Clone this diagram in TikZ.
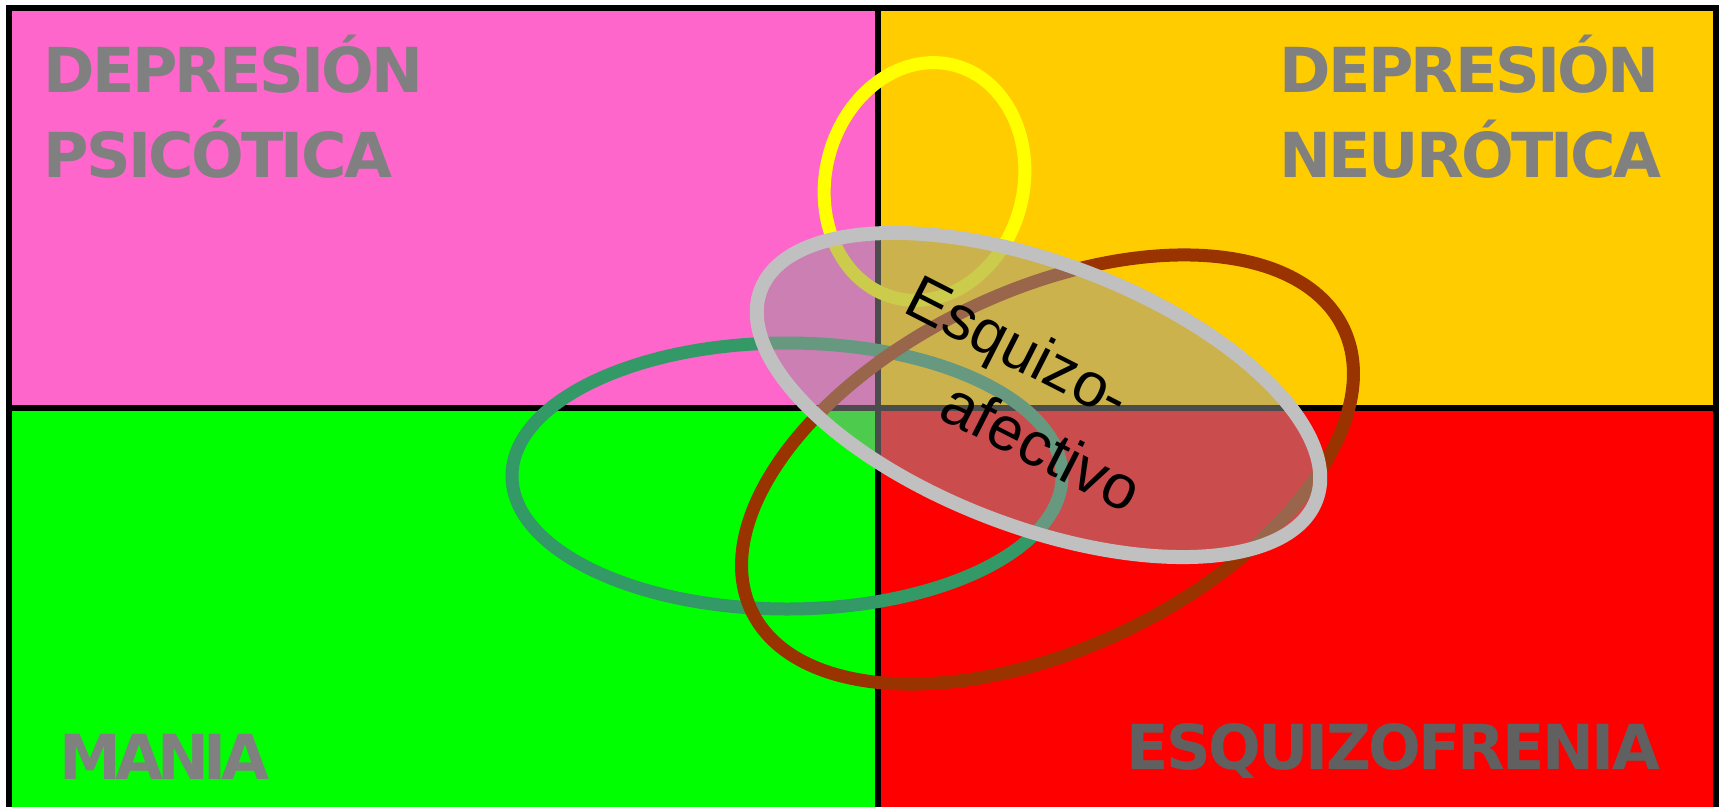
\documentclass[tikz,border=0pt]{standalone}
\usepackage{fontspec}
\newfontfamily\labelfont[LetterSpace=-4.4]{DejaVu Sans}
\newfontfamily\maniafont[LetterSpace=-9.4]{DejaVu Sans}
\newfontfamily\arialfont{Liberation Sans}
\definecolor{quadpink}{HTML}{FF66CC}
\definecolor{quadyellow}{HTML}{FFCC00}
\definecolor{quadgreen}{HTML}{00FF00}
\definecolor{quadred}{HTML}{FF0000}
\definecolor{labelgray}{HTML}{808080}
\definecolor{labeldark}{HTML}{606060}
\definecolor{ringyellow}{HTML}{FFFF00}
\definecolor{ringteal}{HTML}{339966}
\definecolor{ringbrown}{HTML}{993300}
\definecolor{ringgray}{HTML}{C0C0C0}
\definecolor{fillgray}{HTML}{999999}
\tikzset{
  quadlabel/.style={anchor=base west, inner sep=0pt, text=labelgray,
    font=\labelfont\bfseries\fontsize{62}{62}\selectfont},
  schizotext/.style={rotate=-27, inner sep=0pt,
    font=\arialfont\fontsize{62}{62}\selectfont},
  ring/.style={line width=13pt},
  divider/.style={line width=6pt}
}
\begin{document}
\begin{tikzpicture}[x=1pt,y=-1pt]
    \useasboundingbox (0,0) rectangle (1719,806);
    \clip (0,0) rectangle (1719,806);

    % Quadrants
    \fill[quadpink] (9,8) rectangle (878,408);
    \fill[quadyellow] (878,8) rectangle (1716,408);
    \fill[quadgreen] (9,408) rectangle (878,830);
    \fill[quadred] (878,408) rectangle (1716,830);
    \draw[divider] (878,8) -- (878,830);
    \draw[divider] (9,408) -- (1716,408);
    \draw[divider] (9,8) rectangle (1716,830);

    \node[quadlabel] (psicTop) at (43.5,92) {DEPRESIÓN};
    \node[quadlabel] (psicBot) at (43.5,177) {PSICÓTICA};
    \node[quadlabel] (neurTop) at (1279.5,92) {DEPRESIÓN};
    \node[quadlabel] (neurBot) at (1279.5,177) {NEURÓTICA};
    \node[quadlabel, font=\maniafont\bfseries\fontsize{62}{62}\selectfont] (mania) at (59.5,779) {MANIA};
    \node[quadlabel, text=labeldark] (esquizo) at (1126.5,769) {ESQUIZOFRENIA};

    % Ellipses
    \draw[ring, ringyellow, rotate around={-14:(924.5,181.5)}]
        (924.5,181.5) ellipse [x radius=99pt, y radius=120pt];
    \draw[ring, ringteal] (787,476) ellipse [x radius=275pt, y radius=133pt];
    \draw[ring, ringbrown, rotate around={25.5:(1047.5,469.5)}]
        (1047.5,469.5) ellipse [x radius=328pt, y radius=179pt];
    \draw[line width=14pt, draw=ringgray, fill=fillgray, fill opacity=0.5,
        rotate around={-20.7:(1038.5,395)}]
        (1038.5,395) ellipse [x radius=297pt, y radius=132pt];

    \node[schizotext] (schizoTop) at (1016,352) {Esquizo-};
    \node[schizotext] (schizoBot) at (1042,446) {afectivo};
\end{tikzpicture}
\end{document}
